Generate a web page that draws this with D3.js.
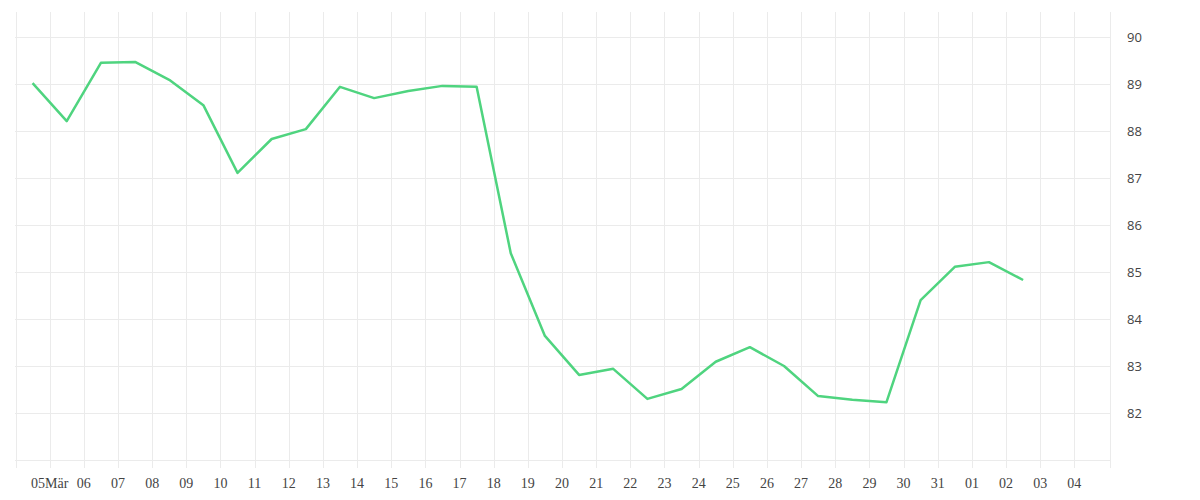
<!DOCTYPE html>
<html><head><meta charset="utf-8">
<script src="https://cdn.jsdelivr.net/npm/d3@7"></script>
<style>body{margin:0;background:#fff}</style>
</head><body><div id="chart"></div>
<script>
const width = 1200, height = 500;
const dates = ["2024-03-04","2024-03-05","2024-03-06","2024-03-07","2024-03-08","2024-03-09","2024-03-10","2024-03-11","2024-03-12","2024-03-13","2024-03-14","2024-03-15","2024-03-16","2024-03-17","2024-03-18","2024-03-19","2024-03-20","2024-03-21","2024-03-22","2024-03-23","2024-03-24","2024-03-25","2024-03-26","2024-03-27","2024-03-28","2024-03-29","2024-03-30","2024-03-31","2024-04-01","2024-04-02"];
const values = [89.02,88.21,89.45,89.47,89.09,88.55,87.11,87.83,88.04,88.94,88.70,88.85,88.96,88.94,85.40,83.64,82.81,82.94,82.30,82.51,83.09,83.40,83.00,82.36,82.28,82.23,84.40,85.11,85.21,84.83];
const yTicks = [82,83,84,85,86,87,88,89,90];

const parse = d3.utcParse("%Y-%m-%d");
const data = dates.map((d, i) => ({ t: d3.utcHour.offset(parse(d), 12), v: values[i] }));

const x = d3.scaleUtc()
  .domain([parse("2024-03-04"), parse("2024-04-05")])
  .range([15.5, 1108.5]);
const y = d3.scaleLinear().domain([81, 90.532]).range([460, 12]);

const svg = d3.select("#chart").append("svg").attr("width", width).attr("height", height);

// gitter
const days = d3.utcDay.range(parse("2024-03-04"), parse("2024-04-05"));
svg.append("g").selectAll("line").data(days).enter().append("line")
  .attr("x1", d => Math.round(x(d)) + 0.5).attr("x2", d => Math.round(x(d)) + 0.5)
  .attr("y1", 12).attr("y2", 468).attr("stroke", "#ebebeb");
svg.append("g").selectAll("line").data(d3.range(81, 91)).enter().append("line")
  .attr("x1", 15).attr("x2", 1110)
  .attr("y1", d => Math.round(y(d)) + 0.5).attr("y2", d => Math.round(y(d)) + 0.5)
  .attr("stroke", "#ebebeb");
svg.append("line").attr("x1", 1110.5).attr("x2", 1110.5).attr("y1", 12).attr("y2", 468).attr("stroke", "#ebebeb");

// x labels
const fmt = d => (d.getUTCDate() === 5 && d.getUTCMonth() === 2) ? "05Mär" : d3.utcFormat("%d")(d);
svg.append("g").selectAll("text").data(days.slice(1)).enter().append("text")
  .attr("x", d => x(d)).attr("y", 488).attr("text-anchor", "middle")
  .attr("fill", "#444")
  .style("font-family", "'Liberation Serif', serif").style("font-size", "14px")
  .text(fmt);

// y labels
svg.append("g").selectAll("text").data(yTicks).enter().append("text")
  .attr("x", 1127).attr("y", d => y(d) + 5)
  .style("font-family", "'Open Sans', sans-serif").style("font-size", "13px").attr("fill", "#444")
  .text(d => d);

const line = d3.line().x(d => x(d.t)).y(d => y(d.v));
svg.append("path").datum(data).attr("d", line)
  .attr("fill", "none").attr("stroke", "#4fd47f").attr("stroke-width", 2.5)
  .attr("stroke-linejoin", "round");
</script></body></html>
